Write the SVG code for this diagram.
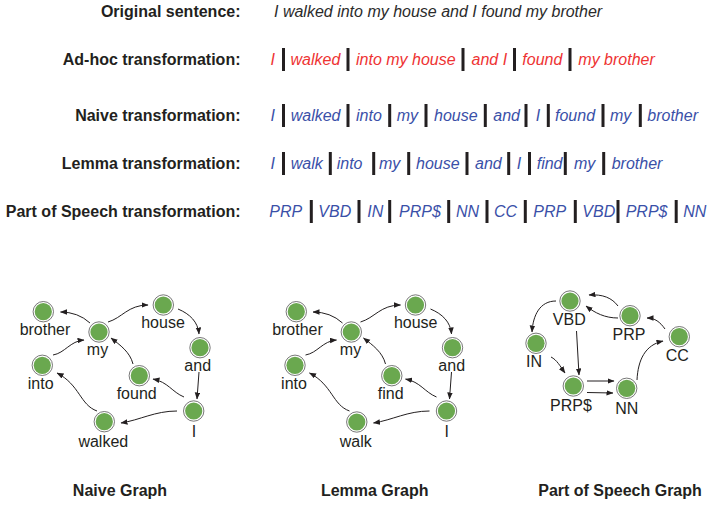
<svg xmlns="http://www.w3.org/2000/svg" width="709" height="505" viewBox="0 0 709 505">
<style>
.lbl{font-family:"Liberation Sans",Arial,sans-serif;font-weight:bold;font-size:16px;fill:#231f20;text-anchor:end}
.ttl{font-family:"Liberation Sans",Arial,sans-serif;font-weight:bold;font-size:16px;fill:#231f20;text-anchor:middle}
.it{font-family:"Liberation Sans",Arial,sans-serif;font-style:italic;font-size:16px}
.orig{fill:#2b2b2b}
.red{fill:#ee3333}
.blue{fill:#3a50a8}
.bar{fill:#231f20}
.nl{font-family:"Liberation Sans",Arial,sans-serif;font-size:16px;fill:#231f20;text-anchor:middle}
.ring{fill:#ffffff;stroke:#555555;stroke-width:0.8}
.core{fill:#6aa84f}
.edge{fill:none;stroke:#231f20;stroke-width:1;marker-end:url(#ah)}
</style>
<defs>
<marker id="ah" markerWidth="7" markerHeight="6" refX="6.5" refY="2.75" orient="auto" markerUnits="userSpaceOnUse">
<path d="M0,0 L7,2.75 L0,5.5 z" fill="#231f20"/>
</marker>
<g id="nd"><circle class="ring" r="10.2"/><circle class="core" r="8.6"/></g>
</defs>

<g id="rows">
<text class="lbl" x="240.5" y="16.5">Original sentence:</text>
<text class="it orig" x="274" y="16.5">I walked into my house and I found my brother</text>

<text class="lbl" x="240.5" y="64.5">Ad-hoc transformation:</text>
<g class="it red">
<text x="270.5" y="64.5">I</text><text x="290.5" y="64.5">walked</text><text x="356" y="64.5">into my house</text><text x="471.5" y="64.5">and I</text><text x="522.3" y="64.5">found</text><text x="578.3" y="64.5">my brother</text>
</g>
<g class="bar">
<rect x="282" y="48" width="3" height="23"/><rect x="346.5" y="48" width="3" height="23"/><rect x="461.5" y="48" width="3" height="23"/><rect x="513" y="48" width="3" height="23"/><rect x="568.5" y="48" width="3" height="23"/>
</g>

<text class="lbl" x="240.5" y="120.5">Naive transformation:</text>
<g class="it blue">
<text x="270.5" y="120.5">I</text><text x="290.7" y="120.5">walked</text><text x="356" y="120.5">into</text><text x="396.7" y="120.5">my</text><text x="434" y="120.5">house</text><text x="493.3" y="120.5">and</text><text x="535.7" y="120.5">I</text><text x="555" y="120.5">found</text><text x="610" y="120.5">my</text><text x="647.3" y="120.5">brother</text>
</g>
<g class="bar">
<rect x="282" y="104" width="3" height="23"/><rect x="346.5" y="104" width="3" height="23"/><rect x="388.2" y="104" width="3" height="23"/><rect x="424.5" y="104" width="3" height="23"/><rect x="483.8" y="104" width="3" height="23"/><rect x="524.5" y="104" width="3" height="23"/><rect x="546.8" y="104" width="3" height="23"/><rect x="601.5" y="104" width="3" height="23"/><rect x="638.8" y="104" width="3" height="23"/>
</g>

<text class="lbl" x="240.5" y="168.5">Lemma transformation:</text>
<g class="it blue">
<text x="270.5" y="168.5">I</text><text x="290.7" y="168.5">walk</text><text x="336.7" y="168.5">into</text><text x="379" y="168.5">my</text><text x="416" y="168.5">house</text><text x="475" y="168.5">and</text><text x="516.7" y="168.5">I</text><text x="536.7" y="168.5">find</text><text x="574" y="168.5">my</text><text x="611.7" y="168.5">brother</text>
</g>
<g class="bar">
<rect x="282" y="152" width="3" height="23"/><rect x="328.8" y="152" width="3" height="23"/><rect x="372.2" y="152" width="3" height="23"/><rect x="407.2" y="152" width="3" height="23"/><rect x="465.5" y="152" width="3" height="23"/><rect x="507.2" y="152" width="3" height="23"/><rect x="528" y="152" width="3" height="23"/><rect x="563.8" y="152" width="3" height="23"/><rect x="602.2" y="152" width="3" height="23"/>
</g>

<text class="lbl" x="240.5" y="216.5">Part of Speech transformation:</text>
<g class="it blue">
<text x="269.3" y="216.5">PRP</text><text x="318.3" y="216.5">VBD</text><text x="367.3" y="216.5">IN</text><text x="399" y="216.5">PRP$</text><text x="456" y="216.5">NN</text><text x="494" y="216.5">CC</text><text x="533.3" y="216.5">PRP</text><text x="582.3" y="216.5">VBD</text><text x="625.7" y="216.5">PRP$</text><text x="683.3" y="216.5">NN</text>
</g>
<g class="bar">
<rect x="309.8" y="200" width="3" height="23"/><rect x="357.5" y="200" width="3" height="23"/><rect x="388.2" y="200" width="3" height="23"/><rect x="447.2" y="200" width="3" height="23"/><rect x="485.5" y="200" width="3" height="23"/><rect x="523.8" y="200" width="3" height="23"/><rect x="573.8" y="200" width="3" height="23"/><rect x="616.5" y="200" width="3" height="23"/><rect x="674.7" y="200" width="3" height="23"/>
</g>
</g>

<g id="connectors">
<!-- naive -->
<path class="edge" d="M90,323 Q78,312 60.5,312"/>
<path class="edge" d="M108,322 C122,318 128,305 148,305"/>
<path class="edge" d="M178,309 C190,314 198,322 199,334"/>
<path class="edge" d="M199,372 L197,399"/>
<path class="edge" d="M184,397 C172,392 168,382 153,379"/>
<path class="edge" d="M133,364 C130,352 120,345 111,338"/>
<path class="edge" d="M177,411 C155,411 140,420 121,423"/>
<path class="edge" d="M97,411 C80,405 80,385 57,373"/>
<path class="edge" d="M53,355 C65,353 70,341 84,340"/>
<!-- lemma -->
<g transform="translate(252.5,0)">
<path class="edge" d="M90,323 Q78,312 60.5,312"/>
<path class="edge" d="M108,322 C122,318 128,305 148,305"/>
<path class="edge" d="M178,309 C190,314 198,322 199,334"/>
<path class="edge" d="M199,372 L197,399"/>
<path class="edge" d="M184,397 C172,392 168,382 153,379"/>
<path class="edge" d="M133,364 C130,352 120,345 111,338"/>
<path class="edge" d="M177,411 C155,411 140,420 121,423"/>
<path class="edge" d="M97,411 C80,405 80,385 57,373"/>
<path class="edge" d="M53,355 C65,353 70,341 84,340"/>
</g>
<!-- pos -->
<path class="edge" d="M556,301 C540,301 533,315 532,332"/>
<path class="edge" d="M576.5,331 L579,375"/>
<path class="edge" d="M551,357 C557,360 560,366 565,373"/>
<path class="edge" d="M587,381 L614,381"/>
<path class="edge" d="M587,392.5 L613,393"/>
<path class="edge" d="M637,380 C638,360 645,345 663,341"/>
<path class="edge" d="M665,329 C660,322 655,318 647,318"/>
<path class="edge" d="M618,306 C612,298 603,294 589,295"/>
<path class="edge" d="M618,318 C605,318 595,313 586,306"/>
</g>

<!-- naive graph nodes -->
<g id="n-brother"><use href="#nd" x="43.3" y="311.7"/><text class="nl" x="45" y="335">brother</text></g>
<g id="n-my"><use href="#nd" x="99" y="332"/><text class="nl" x="97.5" y="354.5">my</text></g>
<g id="n-house"><use href="#nd" x="163.3" y="305"/><text class="nl" x="163" y="328.3">house</text></g>
<g id="n-and"><use href="#nd" x="200" y="347.7"/><text class="nl" x="197.7" y="371">and</text></g>
<g id="n-found"><use href="#nd" x="139.3" y="375.7"/><text class="nl" x="136.7" y="399">found</text></g>
<g id="n-into"><use href="#nd" x="42.3" y="365.3"/><text class="nl" x="40.7" y="388.7">into</text></g>
<g id="n-I"><use href="#nd" x="193.7" y="411"/><text class="nl" x="194" y="437">I</text></g>
<g id="n-walked"><use href="#nd" x="104.3" y="421.7"/><text class="nl" x="103.3" y="447">walked</text></g>

<!-- lemma graph nodes -->
<g id="l-brother"><use href="#nd" x="296.3" y="311.7"/><text class="nl" x="297.5" y="335">brother</text></g>
<g id="l-my"><use href="#nd" x="351.3" y="332"/><text class="nl" x="350.5" y="354.5">my</text></g>
<g id="l-house"><use href="#nd" x="415.5" y="305"/><text class="nl" x="415.7" y="328.3">house</text></g>
<g id="l-and"><use href="#nd" x="452.5" y="347.7"/><text class="nl" x="451.7" y="371">and</text></g>
<g id="l-find"><use href="#nd" x="391.8" y="375.7"/><text class="nl" x="390.7" y="399">find</text></g>
<g id="l-into"><use href="#nd" x="295" y="365.3"/><text class="nl" x="294" y="388.7">into</text></g>
<g id="l-I"><use href="#nd" x="446.5" y="411"/><text class="nl" x="446.7" y="437">I</text></g>
<g id="l-walk"><use href="#nd" x="356.8" y="422"/><text class="nl" x="355.7" y="447">walk</text></g>

<!-- pos graph nodes -->
<g id="p-VBD"><use href="#nd" x="570" y="301"/><text class="nl" x="569.3" y="325">VBD</text></g>
<g id="p-PRP"><use href="#nd" x="630" y="315.7"/><text class="nl" x="629" y="339.5">PRP</text></g>
<g id="p-CC"><use href="#nd" x="679.3" y="336.7"/><text class="nl" x="677.3" y="361">CC</text></g>
<g id="p-IN"><use href="#nd" x="536" y="343.3"/><text class="nl" x="534" y="367">IN</text></g>
<g id="p-PRPS"><use href="#nd" x="573.3" y="386"/><text class="nl" x="571" y="410.5">PRP$</text></g>
<g id="p-NN"><use href="#nd" x="626.7" y="388.3"/><text class="nl" x="626.7" y="413.5">NN</text></g>

<g id="titles">
<text class="ttl" x="120" y="496">Naive Graph</text>
<text class="ttl" x="374.7" y="496">Lemma Graph</text>
<text class="ttl" x="620" y="496">Part of Speech Graph</text>
</g>
</svg>
